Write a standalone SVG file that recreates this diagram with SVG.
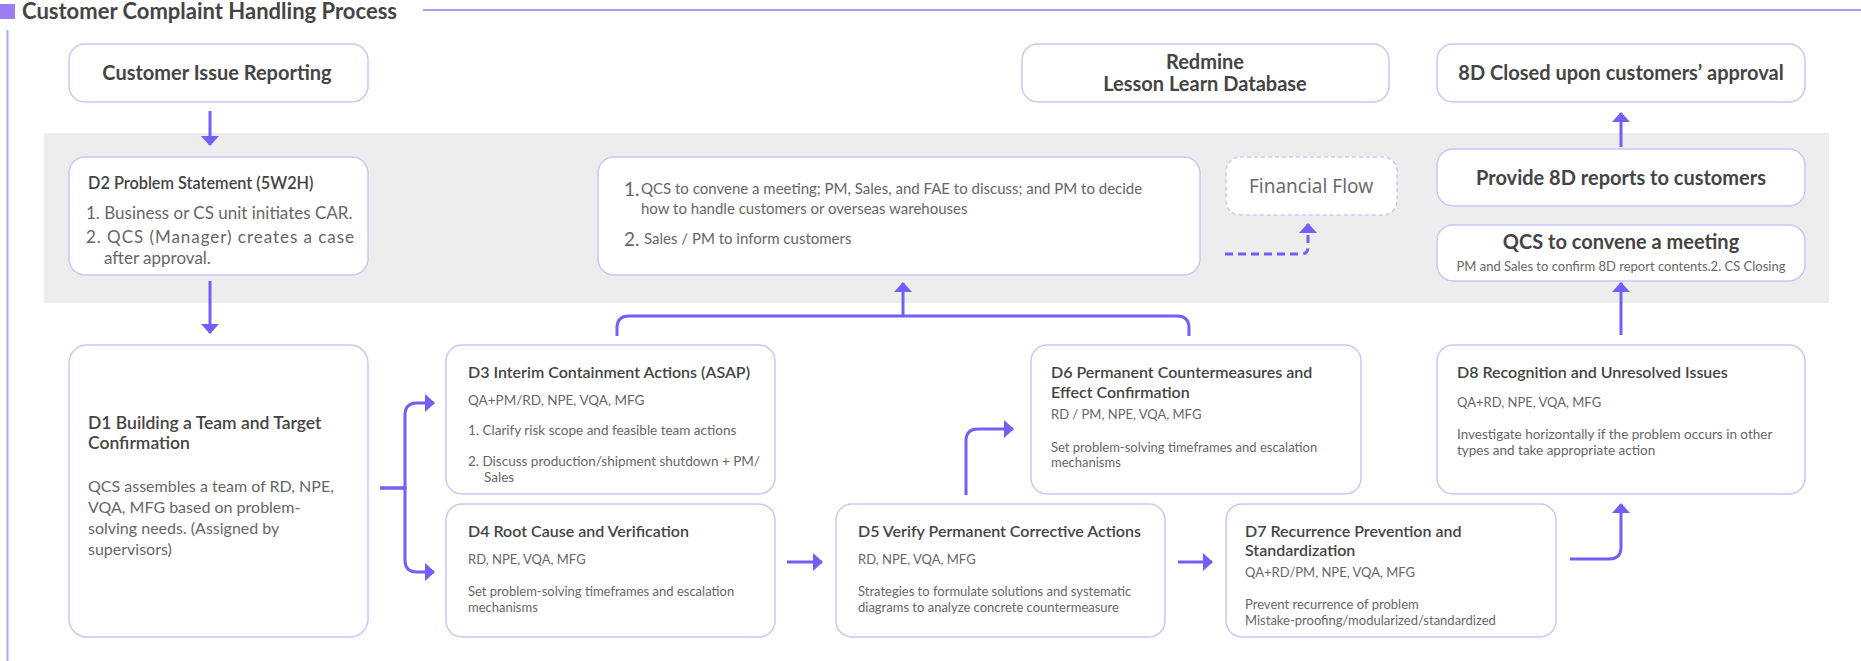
<svg xmlns="http://www.w3.org/2000/svg" width="1861" height="661" viewBox="0 0 1861 661">
<defs>
<style>
.box{fill:#ffffff;stroke:#c9c6fb;stroke-width:1.5}
.dash{fill:#ffffff;stroke:#c9c6fb;stroke-width:1.5;stroke-dasharray:4 3}
.con{fill:none;stroke:#7060f5;stroke-width:3}
.dcon{fill:none;stroke:#7060f5;stroke-width:3;stroke-dasharray:8 5}
.hb{font-family:Lato,"Liberation Sans",sans-serif;font-weight:700;font-size:20px;fill:#444;text-anchor:middle}
.ht{font-family:Lato,"Liberation Sans",sans-serif;font-weight:600;font-size:16px;fill:#444}
.sm{font-family:Lato,"Liberation Sans",sans-serif;font-weight:400;font-size:13px;fill:#666}
.sx{font-family:Lato,"Liberation Sans",sans-serif;font-weight:400;font-size:13.5px;fill:#666}
.md{font-family:Lato,"Liberation Sans",sans-serif;font-weight:400;font-size:17px;fill:#666}
.mt{font-family:Lato,"Liberation Sans",sans-serif;font-weight:400;font-size:15px;fill:#666}
.num{font-family:Lato,"Liberation Sans",sans-serif;font-weight:400;font-size:19px;fill:#666}
.lg{font-family:Lato,"Liberation Sans",sans-serif;font-weight:400;font-size:16px;fill:#666}
</style>
<marker id="ah" viewBox="0 0 10 18" refX="9" refY="9" markerWidth="10" markerHeight="18" markerUnits="userSpaceOnUse" orient="auto">
<path d="M0,0 L10,9 L0,18 Z" fill="#7060f5"/>
</marker>
</defs>
<rect width="1861" height="661" fill="#ffffff"/>
<g id="title">
<rect x="0" y="4" width="15" height="15" fill="#9d7ef0"/>
<text x="22" y="19" font-family="Lato,'Liberation Sans',sans-serif" font-weight="700" font-size="22" fill="#444">Customer Complaint Handling Process</text>
<line x1="423" y1="10" x2="1861" y2="10" stroke="#8b7cf2" stroke-width="1.5"/>
<line x1="7.5" y1="30" x2="7.5" y2="661" stroke="#b3a6f5" stroke-width="2"/>
</g>
<rect x="44" y="133" width="1785" height="170" fill="#ededed"/>
<g id="connectors">
<path class="con" d="M210,111 V145" marker-end="url(#ah)"/>
<path class="con" d="M210,281 V333" marker-end="url(#ah)"/>
<path class="con" d="M380,488 H405 V415 Q405,403 417,403 H434" marker-end="url(#ah)"/>
<path class="con" d="M380,488 H405 V560 Q405,572 417,572 H434" marker-end="url(#ah)"/>
<path class="con" d="M617,336 V328 Q617,316 629,316 H1177 Q1189,316 1189,328 V336"/>
<path class="con" d="M903,316 V283" marker-end="url(#ah)"/>
<path class="con" d="M787,562 H822" marker-end="url(#ah)"/>
<path class="con" d="M966,495 V441 Q966,429 978,429 H1013" marker-end="url(#ah)"/>
<path class="con" d="M1178,562 H1212" marker-end="url(#ah)"/>
<path class="con" d="M1570,559 H1609 Q1621,559 1621,547 V504" marker-end="url(#ah)"/>
<path class="con" d="M1621,335 V283" marker-end="url(#ah)"/>
<path class="con" d="M1621,147 V113" marker-end="url(#ah)"/>
<path class="dcon" d="M1225,254 H1301 Q1308,254 1308,247 V224" marker-end="url(#ah)"/>
</g>
<g id="n-customer-issue">
<rect class="box" x="69" y="44" width="299" height="58" rx="16"/>
<text class="hb" x="217" y="80">Customer Issue Reporting</text>
</g>
<g id="n-redmine">
<rect class="box" x="1022" y="44" width="367" height="58" rx="16"/>
<text class="hb" x="1205" y="69">Redmine</text>
<text class="hb" x="1205" y="91">Lesson Learn Database</text>
</g>
<g id="n-8d-closed">
<rect class="box" x="1437" y="44" width="368" height="58" rx="16"/>
<text class="hb" x="1621" y="80">8D Closed upon customers’ approval</text>
</g>
<g id="n-d2">
<rect class="box" x="69" y="157" width="299" height="118" rx="16"/>
<text class="ht" x="88" y="189" style="font-size:16.3px">D2 Problem Statement (5W2H)</text>
<text class="md" x="86" y="219">1. Business or CS unit initiates CAR.</text>
<text class="md" x="86" y="243" textLength="268" lengthAdjust="spacing">2. QCS (Manager) creates a case</text>
<text class="md" x="104" y="264">after approval.</text>
</g>
<g id="n-actions">
<rect class="box" x="598" y="157" width="602" height="118" rx="16"/>
<text class="num" x="624" y="196">1.</text>
<text class="mt" x="641" y="194">QCS to convene a meeting; PM, Sales, and FAE to discuss; and PM to decide</text>
<text class="mt" x="641" y="214">how to handle customers or overseas warehouses</text>
<text class="num" x="624" y="246">2.</text>
<text class="mt" x="644" y="244">Sales / PM to inform customers</text>
</g>
<g id="n-financial">
<rect class="dash" x="1226" y="157" width="171" height="58" rx="14"/>
<text x="1311" y="193" font-family="'Noto Sans','Open Sans',sans-serif" font-size="19" fill="#6b6b6b" text-anchor="middle">Financial Flow</text>
</g>
<g id="n-provide">
<rect class="box" x="1437" y="149" width="368" height="57" rx="16"/>
<text class="hb" x="1621" y="185">Provide 8D reports to customers</text>
</g>
<g id="n-qcs-meeting">
<rect class="box" x="1437" y="225" width="368" height="56" rx="16"/>
<text class="hb" x="1621" y="249">QCS to convene a meeting</text>
<text class="sm" x="1621" y="271" text-anchor="middle">PM and Sales to confirm 8D report contents.2. CS Closing</text>
</g>
<g id="n-d1">
<rect class="box" x="69" y="345" width="299" height="292" rx="18"/>
<text class="ht" x="88" y="429" style="font-size:17.5px">D1 Building a Team and Target</text>
<text class="ht" x="88" y="449" style="font-size:17.5px">Confirmation</text>
<text class="lg" x="88" y="492">QCS assembles a team of RD, NPE,</text>
<text class="lg" x="88" y="513">VQA, MFG based on problem-</text>
<text class="lg" x="88" y="534">solving needs. (Assigned by</text>
<text class="lg" x="88" y="555">supervisors)</text>
</g>
<g id="n-d3">
<rect class="box" x="446" y="345" width="329" height="149" rx="16"/>
<text class="ht" x="468" y="378">D3 Interim Containment Actions (ASAP)</text>
<text class="sx" x="468" y="405">QA+PM/RD, NPE, VQA, MFG</text>
<text class="sx" x="468" y="435">1.  Clarify risk scope and feasible team actions</text>
<text class="sx" x="468" y="466">2.  Discuss production/shipment shutdown + PM/</text>
<text class="sx" x="484" y="482">Sales</text>
</g>
<g id="n-d4">
<rect class="box" x="446" y="504" width="329" height="133" rx="16"/>
<text class="ht" x="468" y="537">D4 Root Cause and Verification</text>
<text class="sm" x="468" y="564">RD, NPE, VQA, MFG</text>
<text class="sm" x="468" y="596">Set problem-solving timeframes and escalation</text>
<text class="sm" x="468" y="612">mechanisms</text>
</g>
<g id="n-d5">
<rect class="box" x="836" y="504" width="329" height="133" rx="16"/>
<text class="ht" x="858" y="537">D5 Verify Permanent Corrective Actions</text>
<text class="sm" x="858" y="564">RD, NPE, VQA, MFG</text>
<text class="sm" x="858" y="596">Strategies to formulate solutions and systematic</text>
<text class="sm" x="858" y="612">diagrams to analyze concrete countermeasure</text>
</g>
<g id="n-d6">
<rect class="box" x="1031" y="345" width="330" height="149" rx="16"/>
<text class="ht" x="1051" y="378">D6 Permanent Countermeasures and</text>
<text class="ht" x="1051" y="398">Effect Confirmation</text>
<text class="sm" x="1051" y="419">RD / PM, NPE, VQA, MFG</text>
<text class="sm" x="1051" y="452">Set problem-solving timeframes and escalation</text>
<text class="sm" x="1051" y="467">mechanisms</text>
</g>
<g id="n-d7">
<rect class="box" x="1226" y="504" width="330" height="133" rx="16"/>
<text class="ht" x="1245" y="537">D7 Recurrence Prevention and</text>
<text class="ht" x="1245" y="556">Standardization</text>
<text class="sm" x="1245" y="577">QA+RD/PM, NPE, VQA, MFG</text>
<text class="sm" x="1245" y="609">Prevent recurrence of problem</text>
<text class="sm" x="1245" y="625">Mistake-proofing/modularized/standardized</text>
</g>
<g id="n-d8">
<rect class="box" x="1437" y="345" width="368" height="149" rx="16"/>
<text class="ht" x="1457" y="378">D8 Recognition and Unresolved Issues</text>
<text class="sm" x="1457" y="407">QA+RD, NPE, VQA, MFG</text>
<text class="sx" x="1457" y="439">Investigate horizontally if the problem occurs in other</text>
<text class="sx" x="1457" y="455">types and take appropriate action</text>
</g>
</svg>
